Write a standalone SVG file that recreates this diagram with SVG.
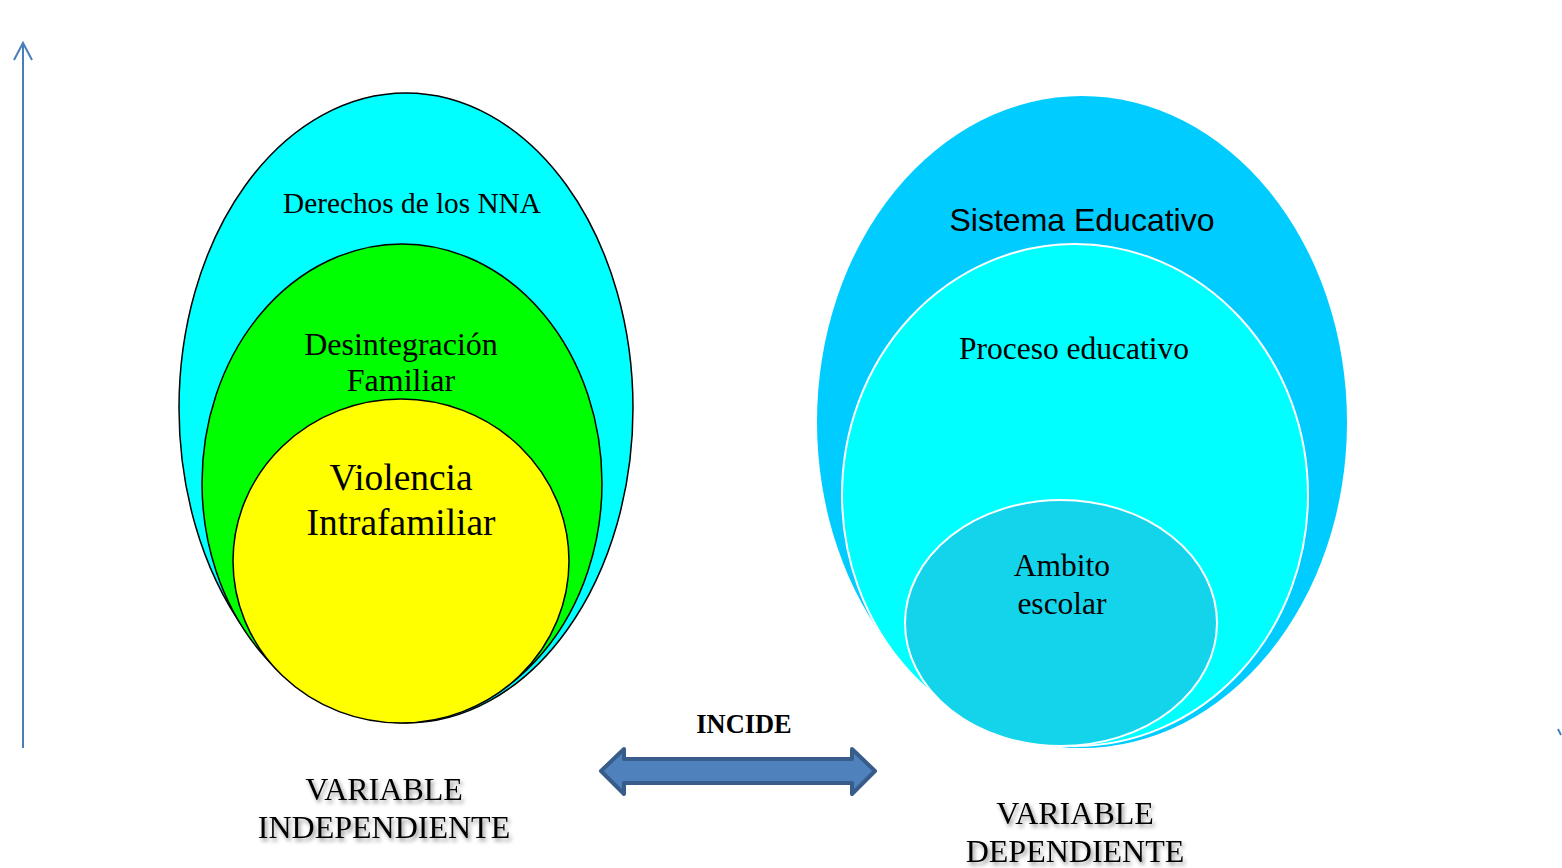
<svg xmlns="http://www.w3.org/2000/svg" width="1562" height="868" viewBox="0 0 1562 868">
<defs>
<style>
.tnr{font-family:"Liberation Serif","Times New Roman",serif;fill:#000;text-anchor:middle}
.ar{font-family:"Liberation Sans",Arial,sans-serif;fill:#000;text-anchor:middle}
.left{stroke:#000;stroke-width:1.5}
.right{stroke:#fff;stroke-width:2}
.axis{stroke:#4A7EBB;stroke-width:2;fill:none}
</style>
<filter id="sh" x="-10%" y="-30%" width="120%" height="160%">
<feGaussianBlur in="SourceAlpha" stdDeviation="2"/>
<feOffset dx="2" dy="3" result="b"/>
<feComponentTransfer><feFuncA type="linear" slope="0.45"/></feComponentTransfer>
<feMerge><feMergeNode/><feMergeNode in="SourceGraphic"/></feMerge>
</filter>
</defs>
<rect width="1562" height="868" fill="#fff"/>

<g id="axis">
<line class="axis" x1="23" y1="748" x2="23" y2="43"/>
<polyline class="axis" points="14,60 23,43 32,60"/>
<line x1="1558" y1="729" x2="1561" y2="735" stroke="#4A7EBB" stroke-width="2"/>
</g>

<g id="derechos">
<ellipse class="left" cx="406" cy="408" rx="227" ry="315" fill="#00FFFF"/>
<text class="tnr" x="412" y="213" font-size="29.3">Derechos de los NNA</text>
</g>
<g id="desintegracion">
<ellipse class="left" cx="402" cy="483" rx="200" ry="239" fill="#00FF00"/>
<text class="tnr" x="401" y="355" font-size="32">Desintegración</text>
<text class="tnr" x="401" y="391" font-size="32">Familiar</text>
</g>
<g id="violencia">
<ellipse class="left" cx="401" cy="561" rx="168" ry="162" fill="#FFFF00"/>
<text class="tnr" x="401" y="490" font-size="37.4">Violencia</text>
<text class="tnr" x="401" y="535" font-size="37.4">Intrafamiliar</text>
</g>

<g id="sistema">
<ellipse cx="1082" cy="422" rx="265" ry="326" fill="#00CCFF"/>
<text class="ar" x="1082" y="231" font-size="32">Sistema Educativo</text>
</g>
<g id="proceso">
<ellipse class="right" cx="1075" cy="495" rx="233" ry="251" fill="#00FFFF"/>
<text class="tnr" x="1074" y="359" font-size="31.5">Proceso educativo</text>
</g>
<g id="ambito">
<ellipse class="right" cx="1061" cy="623" rx="156" ry="123" fill="#14D4EC"/>
<text class="tnr" x="1062" y="576" font-size="31.5">Ambito</text>
<text class="tnr" x="1062" y="614" font-size="31.5">escolar</text>
</g>

<g id="connectors">
<polygon points="601,771 624,749 624,759 852,759 852,749 875,771 852,794 852,783 624,783 624,794" fill="#4F81BD" stroke="#385D8A" stroke-width="4" stroke-linejoin="round"/>
</g>
<g id="incide">
<text class="tnr" x="744" y="733" font-size="26.4" font-weight="bold">INCIDE</text>
</g>

<g id="var-indep" filter="url(#sh)">
<text class="tnr" x="384" y="800" font-size="32">VARIABLE</text>
<text class="tnr" x="384" y="838" font-size="32">INDEPENDIENTE</text>
</g>
<g id="var-dep" filter="url(#sh)">
<text class="tnr" x="1075" y="824" font-size="32">VARIABLE</text>
<text class="tnr" x="1075" y="862" font-size="32">DEPENDIENTE</text>
</g>
</svg>
